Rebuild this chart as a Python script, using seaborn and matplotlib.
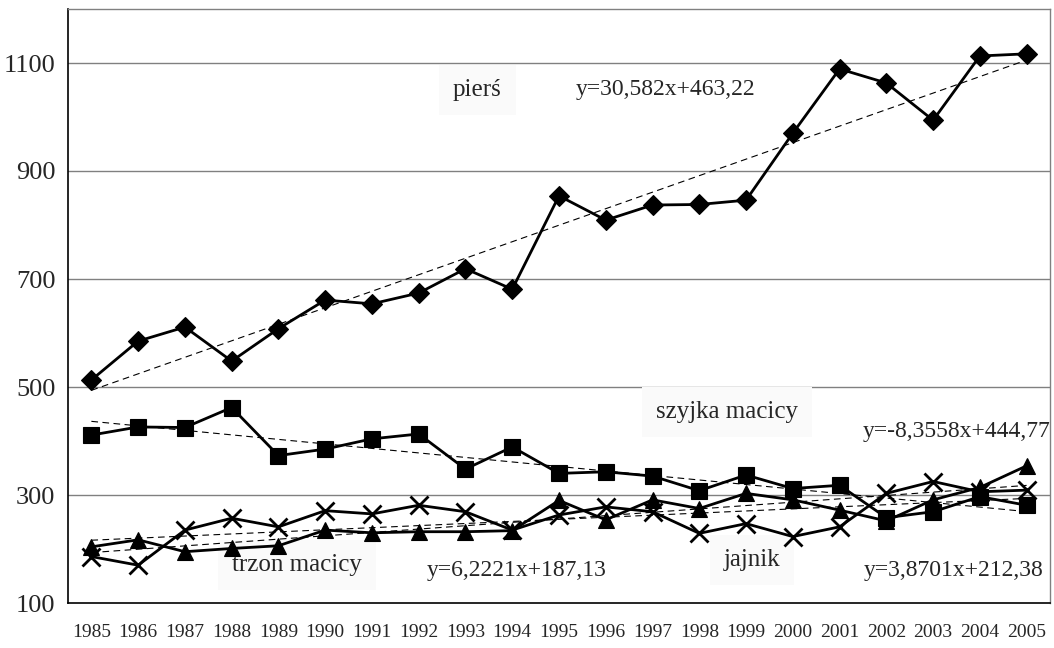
import numpy as np
import pandas as pd
import matplotlib
matplotlib.use("Agg")
import matplotlib.pyplot as plt
from matplotlib.ticker import FixedLocator
import seaborn as sns

# ---- data ----
years = [str(y) for y in range(1985, 2006)]
piers = [513, 585, 611, 548, 608, 661, 654, 674, 719, 681, 854, 809, 837, 838, 846,
         970, 1089, 1063, 994, 1113, 1117]
szyjka = [411, 426, 425, 462, 373, 385, 404, 413, 348, 389, 340, 343, 335, 308, 337,
          312, 318, 258, 269, 297, 281]
trzon = [204, 217, 195, 201, 206, 235, 230, 232, 232, 234, 290, 254, 291, 275, 303,
         291, 272, 252, 291, 314, 354]
jajnik = [186, 170, 235, 257, 241, 271, 265, 281, 269, 235, 263, 278, 269, 229, 247,
          223, 241, 303, 325, 306, 309]

series_names = ["pierś", "szyjka macicy", "trzon macicy", "jajnik"]
trend_slope = [30.582, -8.3558, 6.2221, 3.8701]
trend_icept = [463.22, 444.77, 187.13, 212.38]
equations = ["y=30,582x+463,22", "y=-8,3558x+444,77", "y=6,2221x+187,13", "y=3,8701x+212,38"]
y_ticks = [100, 300, 500, 700, 900, 1100]

# ---- figure ----
sns.set_style("white")
plt.rcParams["font.family"] = ["Liberation Serif", "DejaVu Serif"]

fig = plt.figure(figsize=(10.54, 6.48), dpi=100)
ax = fig.add_axes([68 / 1054, 45 / 648, (1050 - 68) / 1054, (603 - 9) / 648])

idx = np.arange(len(years))
values = [piers, szyjka, trzon, jajnik]
markers = ["D", "s", "^", "x"]
msizes = [10, 11, 11, 13]

for vals, mk, ms in zip(values, markers, msizes):
    sns.lineplot(x=idx, y=vals, ax=ax, color="black", linewidth=2.0,
                 marker=mk, markersize=ms, markeredgecolor="black",
                 markerfacecolor="black", markeredgewidth=2.0 if mk == "x" else 0.8,
                 zorder=3)

# trend lines (Excel-style, x = 1..21)
xn = idx + 1
for s, b in zip(trend_slope, trend_icept):
    sns.lineplot(x=idx, y=s * xn + b, ax=ax, color="black", linewidth=0.8,
                 linestyle=(0, (6, 4)), zorder=4)

# ---- axes styling ----
ax.set_xlim(-0.5, len(years) - 0.5)
ax.set_ylim(100, 1200)
ax.set_yticks(y_ticks)
ax.set_yticklabels([str(v) for v in y_ticks], fontsize=19)
ax.set_xticks(idx)
ax.set_xticklabels(years, fontsize=14)
ax.xaxis.set_minor_locator(FixedLocator(np.arange(-0.5, len(years), 1.0)))
ax.tick_params(axis="x", which="major", length=0, pad=15)
ax.tick_params(axis="x", which="minor", length=6, width=1, color="black", direction="out")
ax.tick_params(axis="y", which="major", length=6, width=1, color="black", direction="out", pad=3)
ax.set_xlabel("")
ax.set_ylabel("")

for v in y_ticks[1:]:
    ax.axhline(v, color="#808080", linewidth=1.0, zorder=1)

for side in ["left", "bottom"]:
    ax.spines[side].set_color("black")
    ax.spines[side].set_linewidth(1.2)
for side in ["top", "right"]:
    ax.spines[side].set_color("#808080")
    ax.spines[side].set_linewidth(1.0)

# ---- labels ----
box = dict(facecolor="#fafafa", edgecolor="none", pad=10)
label_pos = [(8.25, 1050), (13.59, 454), (4.40, 170), (14.13, 180)]
eq_pos = [(12.27, 1050), (18.51, 417), (9.10, 161), (18.43, 161)]
for name, (lx, ly) in zip(series_names, label_pos):
    ax.text(lx, ly, name, fontsize=18, ha="center", va="center", bbox=box, zorder=2)
for eq, (ex, ey) in zip(equations, eq_pos):
    ax.text(ex, ey, eq, fontsize=17, ha="center", va="center", zorder=5)

fig.savefig("out.png", dpi=100)
